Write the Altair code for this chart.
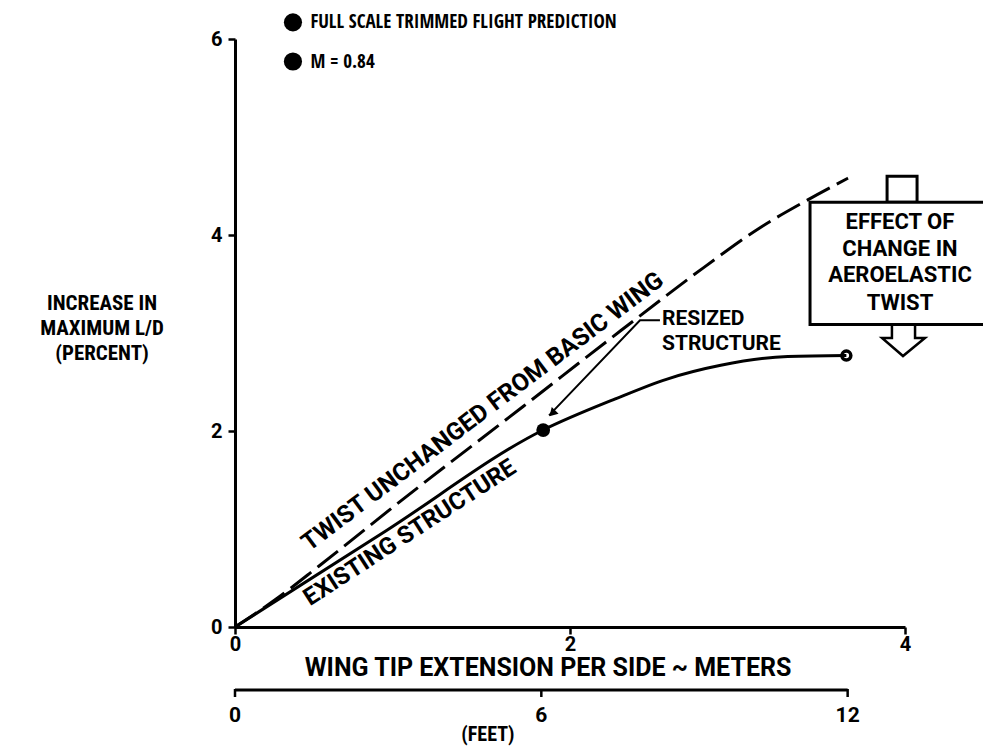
import altair as alt
import pandas as pd

F_NARROW = "Open Sans Condensed, Roboto Condensed, sans-serif"
F_COND = "Roboto Condensed, Open Sans Condensed, sans-serif"
F_REG = "Roboto, Liberation Sans, sans-serif"

# ---- data (x in meters, y in percent) ----
solid_x = [0, 0.9, 1.84, 2.26, 2.58, 2.9, 3.3, 3.65]
solid_y = [0, 0.98, 2.01, 2.32, 2.53, 2.67, 2.76, 2.77]
dashed_x = [0, 0.25, 0.5, 1.0, 1.72, 2.3, 2.8, 3.13, 3.4, 3.66]
dashed_y = [0, 0.29, 0.62, 1.30, 2.25, 3.02, 3.67, 4.07, 4.34, 4.58]

y_ticks = [0, 2, 4, 6]
m_ticks = [0, 2, 4]
ft_ticks = [0, 6, 12]
FT_PER_M = 3.28084

legend_lines = ["FULL SCALE TRIMMED FLIGHT PREDICTION", "M = 0.84"]
legend_y = [6.17, 5.77]
ytitle_lines = ["INCREASE IN", "MAXIMUM L/D", "(PERCENT)"]
ytitle_y = [3.30, 3.045, 2.79]
box_lines = ["EFFECT OF", "CHANGE IN", "AEROELASTIC", "TWIST"]
box_y = [4.13, 3.86, 3.59, 3.31]
resized_lines = ["RESIZED", "STRUCTURE"]
resized_y = [3.14, 2.89]

# annotation geometry (data units)
leader_x = [2.537, 2.418, 1.875]
leader_y = [3.13, 3.13, 2.16]
arrow_x = [3.922, 3.922, 3.863, 3.988, 4.119, 4.060, 4.060]
arrow_y = [3.082, 2.949, 2.949, 2.765, 2.949, 2.949, 3.082]

xs = alt.Scale(domain=[0, 4], nice=False)
ys = alt.Scale(domain=[0, 6], nice=False)


def X(field="x", **kw):
    return alt.X(f"{field}:Q", scale=xs, **kw)


def Y(field="y", **kw):
    return alt.Y(f"{field}:Q", scale=ys, **kw)


def txt(df, font, size, **kw):
    return alt.Chart(df).mark_text(
        font=font, fontSize=size, fontWeight="bold", color="black",
        baseline="middle", **kw
    ).encode(x=X(), y=Y(), text="t:N")


solid = alt.Chart(pd.DataFrame({"x": solid_x, "y": solid_y})).mark_line(
    color="black", strokeWidth=3, interpolate="monotone"
).encode(
    x=X(axis=alt.Axis(values=m_ticks, format="d", title=None, grid=False,
                      tickSize=7, labelPadding=0, labelFlush=False)),
    y=Y(axis=alt.Axis(values=y_ticks, format="d", title=None, grid=False,
                      tickSize=7, labelPadding=6, labelFlush=False)),
)

dashed = alt.Chart(pd.DataFrame({"x": dashed_x, "y": dashed_y})).mark_line(
    color="black", strokeWidth=3, strokeDash=[26, 8], interpolate="monotone"
).encode(x=X(), y=Y())

dot = alt.Chart(pd.DataFrame({"x": [1.84], "y": [2.01]})).mark_circle(
    color="black", size=190, opacity=1
).encode(x=X(), y=Y())

end_pt = alt.Chart(pd.DataFrame({"x": [3.65], "y": [2.77]})).mark_point(
    color="black", size=80, strokeWidth=3.5, filled=False, opacity=1
).encode(x=X(), y=Y())

leader = alt.Chart(pd.DataFrame({"x": leader_x, "y": leader_y,
                                 "o": list(range(len(leader_x)))})).mark_line(
    color="black", strokeWidth=2
).encode(x=X(), y=Y(), order="o:O")

head = alt.Chart(pd.DataFrame({"x": [1.90], "y": [2.19]})).mark_point(
    shape="triangle", filled=True, color="black", size=90, angle=224, opacity=1
).encode(x=X(), y=Y())

legend_dots = alt.Chart(pd.DataFrame({"x": [0.346, 0.346], "y": legend_y})).mark_circle(
    color="black", size=330, opacity=1
).encode(x=X(), y=Y())

legend_txt = txt(pd.DataFrame({"x": [0.45, 0.45], "y": legend_y, "t": legend_lines}),
                 F_NARROW, 19, align="left")

ytitle = txt(pd.DataFrame({"x": [-0.794] * 3, "y": ytitle_y, "t": ytitle_lines}),
             F_COND, 21, align="center")

twist_lbl = txt(pd.DataFrame({"x": [1.481], "y": [2.194],
                              "t": ["TWIST UNCHANGED FROM BASIC WING"]}),
                F_REG, 24.5, align="center", angle=323)

exist_lbl = txt(pd.DataFrame({"x": [1.045], "y": [0.959],
                              "t": ["EXISTING STRUCTURE"]}),
                F_REG, 24, align="center", angle=327)

resized_txt = txt(pd.DataFrame({"x": [2.549, 2.549], "y": resized_y, "t": resized_lines}),
                  F_REG, 21, align="left")

top_rect = alt.Chart(pd.DataFrame({"x": [3.893], "x2": [4.072], "y": [4.60],
                                   "y2": [4.335]})).mark_rect(
    fill="white", stroke="black", strokeWidth=3
).encode(x=X(), x2="x2:Q", y=Y(), y2="y2:Q")

box = alt.Chart(pd.DataFrame({"x": [3.433], "x2": [4.56], "y": [4.335],
                              "y2": [3.088]})).mark_rect(
    fill="white", stroke="black", strokeWidth=3
).encode(x=X(), x2="x2:Q", y=Y(), y2="y2:Q")

box_txt = txt(pd.DataFrame({"x": [3.97] * 4, "y": box_y, "t": box_lines}),
              F_REG, 22, align="center")

down_arrow = alt.Chart(pd.DataFrame({"x": arrow_x, "y": arrow_y,
                                     "o": list(range(len(arrow_x)))})).mark_line(
    color="black", strokeWidth=2.5
).encode(x=X(), y=Y(), order="o:O")

m_title = txt(pd.DataFrame({"x": [1.869], "y": [-0.42],
                            "t": ["WING TIP EXTENSION PER SIDE ~ METERS"]}),
              F_REG, 25, align="center")

ft_title = alt.Chart(pd.DataFrame({"x": [1.51], "t": ["(FEET)"]})).mark_text(
    font=F_COND, fontSize=20, fontWeight="bold", color="black",
    align="center", baseline="alphabetic"
).encode(x=X(), y=alt.value(702), text="t:N")

# feet axis: values converted to meters so they share the meter scale
ft_df = pd.DataFrame({"ft": ft_ticks, "x": [f / FT_PER_M for f in ft_ticks],
                      "lbl": [str(f) for f in ft_ticks]})
ft_line = alt.Chart(pd.DataFrame({"x": [0.0], "x2": [ft_ticks[-1] / FT_PER_M]})).mark_rule(
    color="black", strokeWidth=3
).encode(x=X(), x2="x2:Q", y=alt.value(651))
ft_tick = alt.Chart(ft_df).mark_rule(color="black", strokeWidth=2.5).encode(
    x=X(), y=alt.value(650), y2=alt.value(658)
)
ft_lbl = alt.Chart(ft_df).mark_text(
    align="center", baseline="middle", font=F_REG, fontSize=21, fontWeight="bold",
    color="black"
).encode(x=X(), y=alt.value(677), text="lbl:N")

chart = alt.layer(
    dashed, solid, leader, head, dot, end_pt, legend_dots, legend_txt, ytitle,
    twist_lbl, exist_lbl, resized_txt, top_rect, box, box_txt, down_arrow,
    m_title, ft_title, ft_line, ft_tick, ft_lbl
).properties(
    width=670, height=588,
    autosize=alt.AutoSizeParams(type="none"),
    padding={"left": 227, "top": 31, "right": 78, "bottom": 119},
    background="white",
).configure_view(stroke=None).configure_axis(
    domainColor="black", domainWidth=3, tickColor="black", tickWidth=2.5,
    labelColor="black", labelFont=F_REG, labelFontSize=20, labelFontWeight="bold",
)

chart.save("out.html", embed_options={"renderer": "svg", "actions": False})
